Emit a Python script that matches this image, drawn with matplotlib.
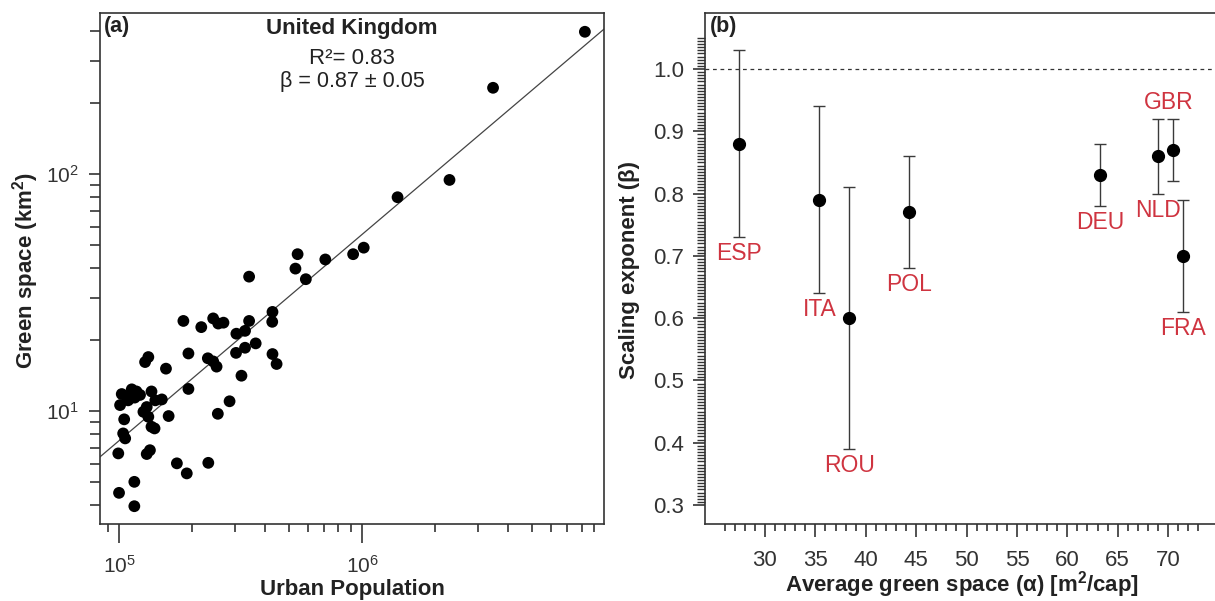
import numpy as np
import matplotlib
matplotlib.use("Agg")
import matplotlib.pyplot as plt
from matplotlib.ticker import LogLocator, NullFormatter, LogFormatterMathtext, MultipleLocator, FixedLocator

plt.rcParams['font.family'] = ['Liberation Sans', 'DejaVu Sans']
plt.rcParams['mathtext.fontset'] = 'custom'
plt.rcParams['mathtext.rm'] = 'Liberation Sans'
plt.rcParams['mathtext.it'] = 'Liberation Sans:italic'
plt.rcParams['mathtext.bf'] = 'Liberation Sans:bold'

# ---- panel (a): UK cities, urban population vs green space ----
urban_pop = [8.26e6, 3.46e6, 2.29e6, 1.40e6, 1.016e6, 9.19e5, 7.06e5, 5.43e5, 5.32e5, 5.87e5,
             3.43e5, 4.28e5, 4.27e5, 3.43e5, 3.30e5, 3.04e5, 3.65e5, 3.30e5, 3.03e5, 4.28e5,
             4.45e5, 3.19e5, 2.85e5, 2.55e5, 2.44e5, 2.56e5, 2.69e5, 2.18e5, 1.84e5, 1.93e5,
             2.32e5, 2.44e5, 2.52e5, 1.93e5, 1.28e5, 1.32e5, 1.56e5, 1.026e5, 1.076e5, 1.128e5,
             1.18e5, 1.22e5, 1.01e5, 1.09e5, 1.16e5, 1.36e5, 1.41e5, 1.50e5, 1.30e5, 1.26e5,
             1.32e5, 1.05e5, 1.60e5, 1.36e5, 1.40e5, 1.04e5, 1.06e5, 9.93e4, 1.30e5, 1.34e5,
             1.73e5, 1.90e5, 2.33e5, 1.156e5, 1.0e5, 1.156e5]
green_km2 = [398, 231, 94.4, 79.8, 48.9, 45.9, 43.6, 45.9, 39.9, 36.0,
             36.9, 26.2, 23.8, 24.0, 21.8, 21.2, 19.3, 18.5, 17.6, 17.4,
             15.8, 14.1, 11.0, 9.74, 24.6, 23.4, 23.6, 22.6, 24.0, 17.5,
             16.7, 16.2, 15.4, 12.4, 16.1, 16.9, 15.1, 11.8, 11.5, 12.35,
             12.1, 11.7, 10.6, 11.1, 11.4, 12.1, 11.1, 11.2, 10.4, 9.93,
             9.46, 9.23, 9.53, 8.59, 8.45, 8.05, 7.67, 6.63, 6.59, 6.84,
             6.02, 5.46, 6.05, 5.03, 4.52, 3.97]
fit_beta = 0.87
fit_beta_err = 0.05
fit_log_prefactor = -3.475
fit_r2 = 0.83

# ---- panel (b): scaling exponent per country ----
countries = ['ESP', 'ITA', 'ROU', 'POL', 'DEU', 'NLD', 'GBR', 'FRA']
alpha = [27.4, 35.4, 38.35, 44.3, 63.25, 69.0, 70.45, 71.5]
beta = [0.88, 0.79, 0.60, 0.77, 0.83, 0.86, 0.87, 0.70]
beta_lo = [0.73, 0.64, 0.39, 0.68, 0.78, 0.80, 0.82, 0.61]
beta_hi = [1.03, 0.94, 0.81, 0.86, 0.88, 0.92, 0.92, 0.79]

W, H = 1215, 601
fig = plt.figure(figsize=(W / 100, H / 100), dpi=100)

def px_axes(l, t, r, b):
    return fig.add_axes([l / W, 1 - b / H, (r - l) / W, (b - t) / H])

spine_c = '#333333'
text_c = '#222222'
red = '#cf3440'

# ---------------- (a) ----------------
ax = px_axes(100, 12.7, 604, 524)
ax.set_xscale('log')
ax.set_yscale('log')
ax.set_xlim(8.35e4, 9.9e6)
ax.set_ylim(3.34, 479)

xs = np.logspace(4.8, 7.1, 50)
ax.plot(xs, 10 ** fit_log_prefactor * xs ** fit_beta, color='#444444', lw=0.9, zorder=2)
ax.scatter(urban_pop, green_km2, s=72, color='black', edgecolors='none', zorder=3)

ax.xaxis.set_major_locator(LogLocator(base=10, numticks=10))
ax.xaxis.set_minor_locator(LogLocator(base=10, subs=np.arange(2, 10), numticks=20))
ax.xaxis.set_minor_formatter(NullFormatter())
ax.yaxis.set_major_locator(LogLocator(base=10, numticks=10))
ax.yaxis.set_minor_locator(LogLocator(base=10, subs=np.arange(2, 10), numticks=20))
ax.yaxis.set_minor_formatter(NullFormatter())
ax.xaxis.set_major_formatter(LogFormatterMathtext())
ax.yaxis.set_major_formatter(LogFormatterMathtext())

ax.tick_params(axis='x', which='major', length=14, width=1.2, pad=8, labelsize=15, colors=spine_c)
ax.tick_params(axis='x', which='minor', length=6, width=1.2, colors=spine_c)
ax.tick_params(axis='y', which='major', length=8, width=1.2, pad=7, labelsize=15, colors=spine_c)
ax.tick_params(axis='y', which='minor', length=7, width=1.2, colors=spine_c)
for s in ax.spines.values():
    s.set_linewidth(1.2)
    s.set_color(spine_c)

ax.text(0.008, 0.994, '(a)', transform=ax.transAxes, ha='left', va='top',
        fontsize=15.5, fontweight='bold', color=text_c)
ax.text(0.5, 0.970, 'United Kingdom', transform=ax.transAxes, ha='center', va='center',
        fontsize=16, fontweight='bold', color=text_c)
ax.text(0.5, 0.910, 'R\u00b2= %.2f' % fit_r2, transform=ax.transAxes, ha='center', va='center',
        fontsize=16, color=text_c)
ax.text(0.5, 0.866, '\u03b2 = %.2f \u00b1 %.2f' % (fit_beta, fit_beta_err), transform=ax.transAxes,
        ha='center', va='center', fontsize=15.5, color=text_c)

fig.text(26 / W, 1 - 270 / H, 'Green space (km$^{\\mathbf{2}}$)', rotation=90, ha='center', va='center',
         fontsize=16, fontweight='bold', color=text_c)
fig.text(352 / W, 1 - 590 / H, 'Urban Population', ha='center', va='center',
         fontsize=16, fontweight='bold', color=text_c)

# ---------------- (b) ----------------
bx = px_axes(705, 12.7, 1216, 524)
bx.set_xlim(24.05, 74.75)
bx.set_ylim(0.2695, 1.0904)

yerr = [np.array(beta) - np.array(beta_lo), np.array(beta_hi) - np.array(beta)]
bx.errorbar(alpha, beta, yerr=yerr, fmt='o', color='black', ms=8.5, ecolor='#3a3a3a',
            elinewidth=1.0, capsize=4.5, capthick=1.0, zorder=3)
bx.axhline(1.0, color='#333333', lw=0.9, ls=(0, (3, 3)), zorder=1)

# label placement: below the lower cap, except GBR above its upper cap
for name, a, lo, hi in zip(countries, alpha, beta_lo, beta_hi):
    if name == 'GBR':
        bx.annotate(name, (a, hi), xytext=(-3, 11.5), textcoords='offset points',
                    ha='center', va='center', fontsize=16.5, color=red)
    else:
        bx.annotate(name, (a, lo), xytext=(0, -12), textcoords='offset points',
                    ha='center', va='center', fontsize=16.5, color=red)

bx.xaxis.set_major_locator(MultipleLocator(5))
bx.xaxis.set_minor_locator(FixedLocator(np.arange(26, 74, 1)))
bx.set_xticks(np.arange(30, 75, 5))
bx.yaxis.set_major_locator(MultipleLocator(0.1))
bx.yaxis.set_minor_locator(FixedLocator(np.arange(0.3, 1.0501, 0.005)))
bx.yaxis.set_major_formatter(matplotlib.ticker.FormatStrFormatter('%.1f'))

bx.tick_params(axis='x', which='major', length=9, width=1.2, pad=10, labelsize=16, colors=spine_c)
bx.tick_params(axis='x', which='minor', length=5, width=1.2, colors=spine_c)
bx.tick_params(axis='y', which='major', length=9, width=1.2, pad=6, labelsize=16, colors=spine_c)
bx.tick_params(axis='y', which='minor', length=6, width=1.0, colors=spine_c)
for s in bx.spines.values():
    s.set_linewidth(1.2)
    s.set_color(spine_c)
bx.spines['right'].set_visible(False)

bx.text(0.01, 0.994, '(b)', transform=bx.transAxes, ha='left', va='top',
        fontsize=15.5, fontweight='bold', color=text_c)

fig.text(630 / W, 1 - 270 / H, 'Scaling exponent (\u03b2)', rotation=90, ha='center', va='center',
         fontsize=16, fontweight='bold', color=text_c)
fig.text(962 / W, 1 - 585 / H, 'Average green space (\u03b1) [m$^{\\mathbf{2}}$/cap]', ha='center', va='center',
         fontsize=16, fontweight='bold', color=text_c)

fig.savefig('out.png', dpi=100)
